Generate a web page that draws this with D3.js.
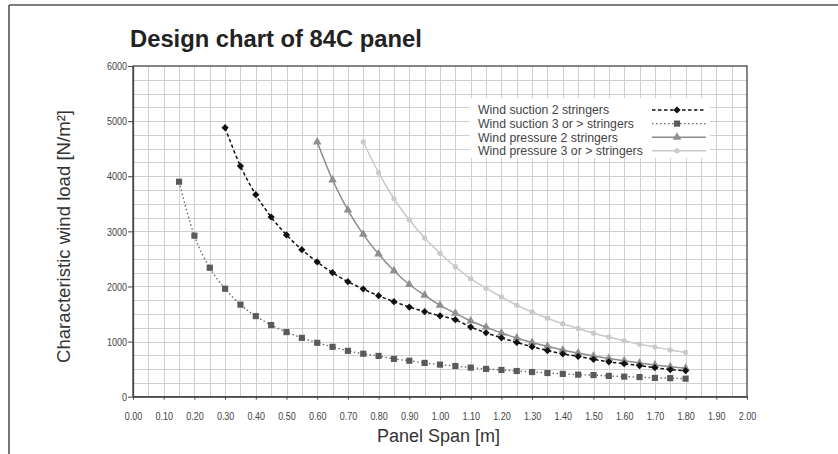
<!DOCTYPE html>
<html><head><meta charset="utf-8">
<script src="https://cdn.jsdelivr.net/npm/d3@7"></script>
<style>
html,body{margin:0;padding:0;background:#fff;}
svg{display:block;font-family:"Liberation Sans",Arial,Helvetica,sans-serif;}
</style></head>
<body><svg id="c" width="838" height="454"></svg>
<script>
const title = "Design chart of 84C panel";
const xTitle = "Panel Span [m]";
const yTitle = "Characteristic wind load [N/m²]";

const xTickValues = [0,0.1,0.2,0.3,0.4,0.5,0.6,0.7,0.8,0.9,1.0,1.1,1.2,1.3,1.4,1.5,1.6,1.7,1.8,1.9,2.0];
const yTickValues = [0,1000,2000,3000,4000,5000,6000];

const seriesNames = ["Wind suction 2 stringers","Wind suction 3 or > stringers","Wind pressure 2 stringers","Wind pressure 3 or > stringers"];

const spanSuction2 = [0.30,0.35,0.40,0.45,0.50,0.55,0.60,0.65,0.70,0.75,0.80,0.85,0.90,0.95,1.00,1.05,1.10,1.15,1.20,1.25,1.30,1.35,1.40,1.45,1.50,1.55,1.60,1.65,1.70,1.75,1.80];
const loadSuction2 = [4880,4185,3665,3260,2935,2667,2445,2250,2087,1954,1832,1724,1627,1542,1468,1397,1264,1160,1068,985,907,837,777,731,679,632,599,562,527,492,472];

const spanSuction3 = [0.15,0.20,0.25,0.30,0.35,0.40,0.45,0.50,0.55,0.60,0.65,0.70,0.75,0.80,0.85,0.90,0.95,1.00,1.05,1.10,1.15,1.20,1.25,1.30,1.35,1.40,1.45,1.50,1.55,1.60,1.65,1.70,1.75,1.80];
const loadSuction3 = [3900,2921,2340,1959,1670,1462,1300,1172,1068,978,905,832,780,740,686,652,613,582,557,528,504,485,466,448,430,414,400,392,377,364,356,341,337,327];

const spanPressure2 = [0.60,0.65,0.70,0.75,0.80,0.85,0.90,0.95,1.00,1.05,1.10,1.15,1.20,1.25,1.30,1.35,1.40,1.45,1.50,1.55,1.60,1.65,1.70,1.75,1.80];
const loadPressure2 = [4621,3931,3387,2946,2589,2286,2035,1840,1658,1513,1373,1262,1157,1066,985,914,849,792,740,693,651,612,576,544,515];

const spanPressure3 = [0.75,0.80,0.85,0.90,0.95,1.00,1.05,1.10,1.15,1.20,1.25,1.30,1.35,1.40,1.45,1.50,1.55,1.60,1.65,1.70,1.75,1.80];
const loadPressure3 = [4621,4064,3592,3211,2879,2602,2358,2141,1968,1809,1660,1537,1424,1325,1238,1152,1083,1016,953,901,848,805];

const svg = d3.select("#c");
const L = 133, R = 747, T = 66, B = 396.7;
const x = d3.scaleLinear().domain([0,2]).range([L,R]);
const y = d3.scaleLinear().domain([0,6000]).range([B,T]);

// outer frame (top and left)
svg.append("path").attr("d","M9,5H838M9,5V454").attr("fill","none").attr("stroke","#555").attr("stroke-width",1.6);

// grid
const g = svg.append("g");
const vGrid = d3.range(1,40).map(i=>i*0.05);
const hGrid = d3.range(1,24).map(i=>i*250);
g.selectAll(".vg").data(vGrid).join("line")
  .attr("x1",d=>Math.round(x(d))+0.5).attr("x2",d=>Math.round(x(d))+0.5)
  .attr("y1",T).attr("y2",B).attr("stroke","#d0d0d0").attr("stroke-width",1);
g.selectAll(".hg").data(hGrid).join("line")
  .attr("y1",d=>Math.round(y(d))+0.5).attr("y2",d=>Math.round(y(d))+0.5)
  .attr("x1",L).attr("x2",R).attr("stroke","#d0d0d0").attr("stroke-width",1);

// plot border
svg.append("rect").attr("x",L).attr("y",T).attr("width",R-L).attr("height",B-T)
  .attr("fill","none").attr("stroke","#444").attr("stroke-width",1.3);

// axes
const xAxis = svg.append("g").attr("transform",`translate(0,${B})`)
  .call(d3.axisBottom(x).tickValues(xTickValues).tickFormat(d3.format(".2f")).tickSize(3).tickSizeOuter(0).tickPadding(12));
const yAxis = svg.append("g").attr("transform",`translate(${L},0)`)
  .call(d3.axisLeft(y).tickValues(yTickValues).tickFormat(d3.format("d")).tickSize(5).tickSizeOuter(0).tickPadding(1));
[xAxis,yAxis].forEach(a=>{
  a.select(".domain").attr("stroke","#444").attr("stroke-width",1.3);
  a.selectAll(".tick line").attr("stroke","#444");
  a.selectAll(".tick text").attr("fill","#444").attr("font-size",11.5)
    .style("font-family","'Liberation Sans',Arial,sans-serif")
    .each(function(){ const w=this.getComputedTextLength(); d3.select(this).attr("textLength",w*0.78).attr("lengthAdjust","spacingAndGlyphs"); });
});

function fit(sel, target){
  const n = sel.node(); const fs = parseFloat(sel.attr("font-size"));
  const w = n.getComputedTextLength(); sel.attr("font-size", fs*target/w);
}

// titles
const t = svg.append("text").attr("x",130).attr("y",47).attr("font-size",22).attr("font-weight","bold").attr("fill","#222").text(title);
fit(t, 292);
const xt = svg.append("text").attr("x",438.5).attr("y",442).attr("text-anchor","middle").attr("font-size",15).attr("fill","#333").text(xTitle);
fit(xt, 123);
const yt = svg.append("text").attr("transform","translate(70,236.5) rotate(-90)").attr("text-anchor","middle").attr("font-size",15).attr("fill","#333").text(yTitle);
fit(yt, 253);

// series
const series = [
  {name:seriesNames[3], xs:spanPressure3, ys:loadPressure3, stroke:"#c9c9c9", dash:null, sw:1.5, fill:"#cacaca", shape:"circle"},
  {name:seriesNames[2], xs:spanPressure2, ys:loadPressure2, stroke:"#8c8c8c", dash:null, sw:1.5, fill:"#8f8f8f", shape:"triangle"},
  {name:seriesNames[1], xs:spanSuction3, ys:loadSuction3, stroke:"#6a6a6a", dash:"1.5,2.5", sw:1.4, fill:"#5a5a5a", shape:"square"},
  {name:seriesNames[0], xs:spanSuction2, ys:loadSuction2, stroke:"#111", dash:"3.5,2.5", sw:1.5, fill:"#111", shape:"diamond"}
];
const sym = {
  circle: {gen:d3.symbol().type(d3.symbolCircle).size(22), rot:0},
  triangle: {gen:d3.symbol().type(d3.symbolTriangle).size(32), rot:0},
  square: {gen:d3.symbol().type(d3.symbolSquare).size(38), rot:0},
  diamond: {gen:d3.symbol().type(d3.symbolSquare).size(26), rot:45}
};
const line = d3.line().x(d=>x(d[0])).y(d=>y(d[1])).curve(d3.curveMonotoneX);
series.forEach(s=>{
  const pts = s.xs.map((v,i)=>[v,s.ys[i]]);
  svg.append("path").datum(pts).attr("d",line).attr("fill","none")
    .attr("stroke",s.stroke).attr("stroke-width",s.sw).attr("stroke-dasharray",s.dash);
  svg.append("g").selectAll("path").data(pts).join("path")
    .attr("transform",d=>`translate(${x(d[0])},${y(d[1])}) rotate(${sym[s.shape].rot})`)
    .attr("d",sym[s.shape].gen()).attr("fill",s.fill);
});

// legend
const lg = svg.append("g");
lg.append("rect").attr("x",470).attr("y",98).attr("width",240).attr("height",60).attr("fill","#fff");
const legOrder = [series[3],series[2],series[1],series[0]];
legOrder.forEach((s,i)=>{
  const cy = 110 + i*13.6;
  lg.append("text").attr("x",478).attr("y",cy+4.3).attr("font-size",12.5).attr("fill","#444").text(s.name);
  lg.append("line").attr("x1",652).attr("x2",706).attr("y1",cy).attr("y2",cy)
    .attr("stroke",s.stroke).attr("stroke-width",s.sw).attr("stroke-dasharray",s.dash);
  lg.append("path").attr("transform",`translate(677,${cy}) rotate(${sym[s.shape].rot})`).attr("d",sym[s.shape].gen()).attr("fill",s.fill);
});
fit(lg.selectAll("text").filter((d,i)=>i===3), 165);
const fsLeg = lg.selectAll("text").filter((d,i)=>i===3).attr("font-size");
lg.selectAll("text").attr("font-size",fsLeg);
</script></body></html>
